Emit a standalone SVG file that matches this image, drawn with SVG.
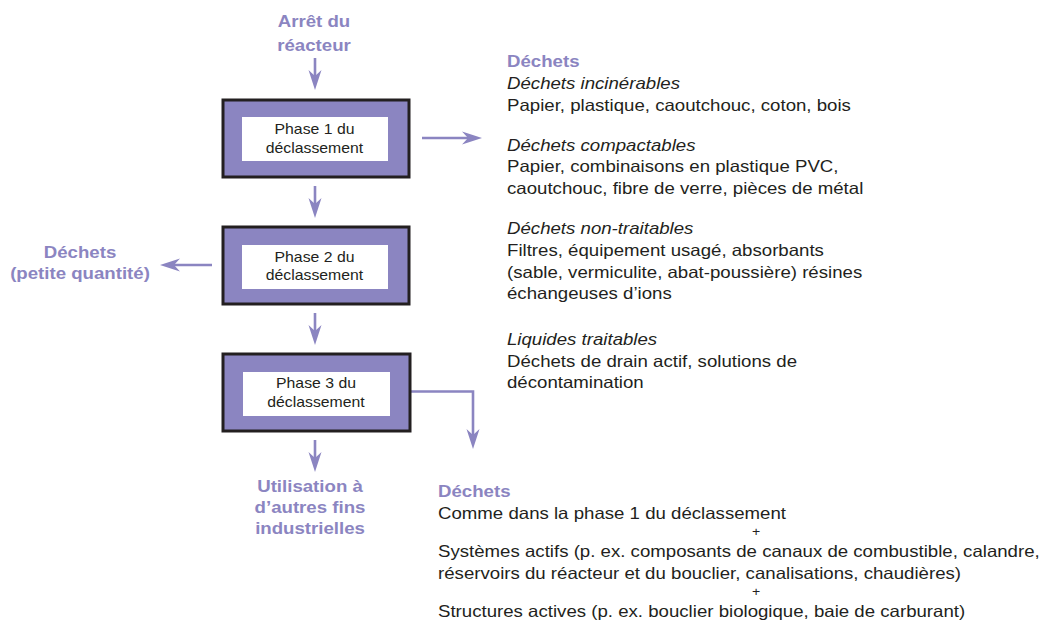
<svg xmlns="http://www.w3.org/2000/svg" width="1041" height="622" viewBox="0 0 1041 622">
<style>
.box{fill:#8b85c1;stroke:#231f20;stroke-width:3}
.inner{fill:#ffffff}
.bt{font-family:"Liberation Sans",Arial,sans-serif;font-size:14px;fill:#231f20;text-anchor:middle}
.lbl{font-family:"Liberation Sans",Arial,sans-serif;font-size:16.5px;font-weight:bold;fill:#8b85c1}
.mid{text-anchor:middle}
.tx{font-family:"Liberation Sans",Arial,sans-serif;font-size:16.5px;fill:#231f20}
.plus{font-family:"Liberation Sans",Arial,sans-serif;font-size:12.5px;fill:#231f20;text-anchor:middle}
.it{font-style:italic}
.conn{fill:none;stroke:#8b85c1;stroke-width:2.6}
</style>
<defs>
<marker id="ah" viewBox="0 -7 22 14" markerWidth="22" markerHeight="14" refX="14" refY="0" orient="auto" markerUnits="userSpaceOnUse">
<path d="M20,0 L0,-6.5 L6,0 L0,6.5 Z" fill="#8b85c1"/>
</marker>
</defs>
<rect width="1041" height="622" fill="#ffffff"/>

<g id="connectors">
<line class="conn" x1="315" y1="58" x2="315" y2="84" marker-end="url(#ah)"/>
<line class="conn" x1="315" y1="186" x2="315" y2="212" marker-end="url(#ah)"/>
<line class="conn" x1="315" y1="313" x2="315" y2="339" marker-end="url(#ah)"/>
<line class="conn" x1="315" y1="440" x2="315" y2="466" marker-end="url(#ah)"/>
<line class="conn" x1="422" y1="138" x2="476" y2="138" marker-end="url(#ah)"/>
<line class="conn" x1="212" y1="265" x2="166" y2="265" marker-end="url(#ah)"/>
<polyline class="conn" points="410,391.5 473,391.5 473,443" marker-end="url(#ah)"/>
</g>

<g id="arret">
<text class="lbl mid" transform="translate(314,27) scale(1.13,1)">Arrêt du</text>
<text class="lbl mid" transform="translate(314,51) scale(1.13,1)">réacteur</text>
</g>

<g id="phase1">
<rect class="box" x="223" y="100" width="186" height="77"/>
<rect class="inner" x="242" y="117" width="146" height="44"/>
<text class="bt" transform="translate(314.5,134) scale(1.13,1)">Phase 1 du</text>
<text class="bt" transform="translate(314.5,153) scale(1.13,1)">déclassement</text>
</g>

<g id="phase2">
<rect class="box" x="223" y="227" width="186" height="77"/>
<rect class="inner" x="242" y="245" width="146" height="44"/>
<text class="bt" transform="translate(314.5,262) scale(1.13,1)">Phase 2 du</text>
<text class="bt" transform="translate(314.5,280) scale(1.13,1)">déclassement</text>
</g>

<g id="phase3">
<rect class="box" x="223" y="354" width="187" height="77"/>
<rect class="inner" x="243" y="372" width="147" height="44"/>
<text class="bt" transform="translate(316,388) scale(1.13,1)">Phase 3 du</text>
<text class="bt" transform="translate(316,407) scale(1.13,1)">déclassement</text>
</g>

<g id="dechets-petite">
<text class="lbl mid" transform="translate(80,258) scale(1.13,1)">Déchets</text>
<text class="lbl mid" transform="translate(80,279) scale(1.13,1)">(petite quantité)</text>
</g>

<g id="utilisation">
<text class="lbl mid" transform="translate(310,492) scale(1.13,1)">Utilisation à</text>
<text class="lbl mid" transform="translate(310,513) scale(1.13,1)">d’autres fins</text>
<text class="lbl mid" transform="translate(310,534) scale(1.13,1)">industrielles</text>
</g>

<g id="dechets-phase1">
<text class="lbl" transform="translate(507,67) scale(1.13,1)">Déchets</text>
<text class="tx it" transform="translate(507,89) scale(1.13,1)">Déchets incinérables</text>
<text class="tx" transform="translate(507,111) scale(1.13,1)">Papier, plastique, caoutchouc, coton, bois</text>
<text class="tx it" transform="translate(507,151) scale(1.13,1)">Déchets compactables</text>
<text class="tx" transform="translate(507,172) scale(1.13,1)">Papier, combinaisons en plastique PVC,</text>
<text class="tx" transform="translate(507,194) scale(1.13,1)">caoutchouc, fibre de verre, pièces de métal</text>
<text class="tx it" transform="translate(507,234) scale(1.13,1)">Déchets non-traitables</text>
<text class="tx" transform="translate(507,256) scale(1.13,1)">Filtres, équipement usagé, absorbants</text>
<text class="tx" transform="translate(507,278) scale(1.13,1)">(sable, vermiculite, abat-poussière) résines</text>
<text class="tx" transform="translate(507,299) scale(1.13,1)">échangeuses d’ions</text>
<text class="tx it" transform="translate(507,345) scale(1.13,1)">Liquides traitables</text>
<text class="tx" transform="translate(507,367) scale(1.13,1)">Déchets de drain actif, solutions de</text>
<text class="tx" transform="translate(507,388) scale(1.13,1)">décontamination</text>
</g>

<g id="dechets-phase3">
<text class="lbl" transform="translate(438,497) scale(1.13,1)">Déchets</text>
<text class="tx" transform="translate(438,519) scale(1.13,1)">Comme dans la phase 1 du déclassement</text>
<text class="plus" transform="translate(756,535.5) scale(1.13,1)">+</text>
<text class="tx" transform="translate(438,557) scale(1.13,1)">Systèmes actifs (p. ex. composants de canaux de combustible, calandre,</text>
<text class="tx" transform="translate(438,579) scale(1.13,1)">réservoirs du réacteur et du bouclier, canalisations, chaudières)</text>
<text class="plus" transform="translate(756,596) scale(1.13,1)">+</text>
<text class="tx" transform="translate(438,617) scale(1.13,1)">Structures actives (p. ex. bouclier biologique, baie de carburant)</text>
</g>
</svg>
